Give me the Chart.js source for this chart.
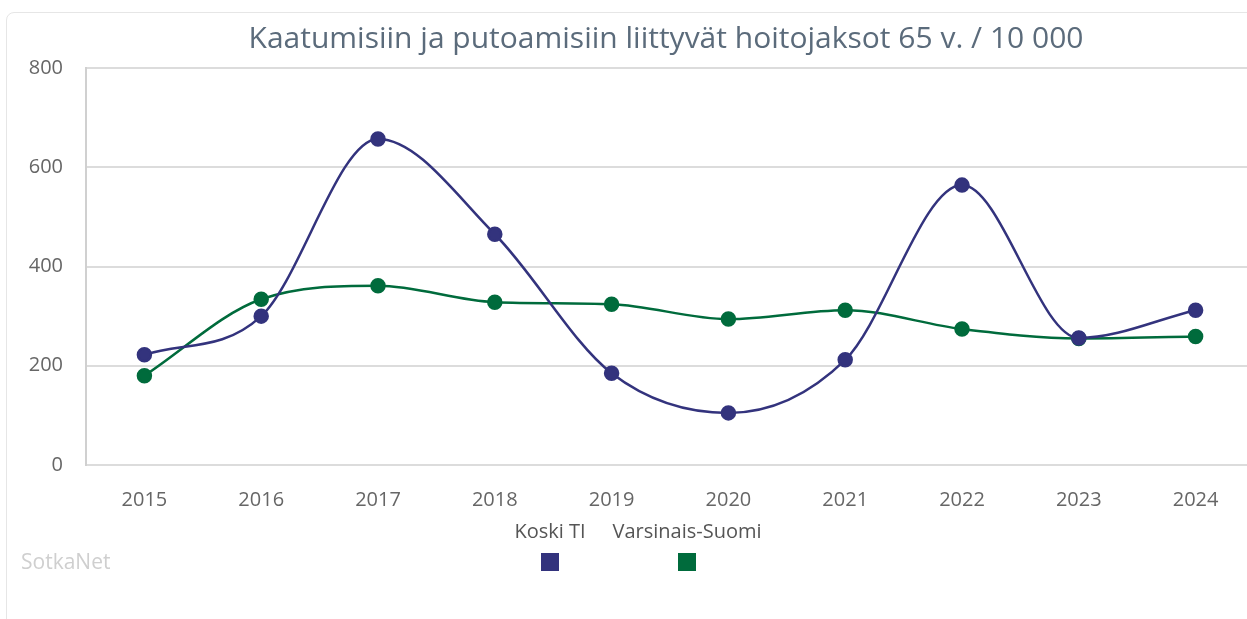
<!DOCTYPE html>
<html>
<head>
<meta charset="utf-8">
<script src="https://cdn.jsdelivr.net/npm/chart.js@4/dist/chart.umd.min.js"></script>
<style>
  html, body { margin: 0; padding: 0; overflow: hidden; background: #fff; }
  body { width: 1247px; height: 619px; position: relative; }
  .card {
    position: absolute; left: 6px; top: 12px; width: 1400px; height: 640px;
    border: 1px solid #e6e6e6; border-radius: 8px; background: #fff;
  }
  #chart { position: absolute; left: 0; top: 0; }
</style>
</head>
<body>
<div class="card"></div>
<canvas id="chart" width="1332" height="619"></canvas>
<script>
const title = 'Kaatumisiin ja putoamisiin liittyvät hoitojaksot 65 v. / 10 000'
const credit = 'SotkaNet'
const years = ['2015', '2016', '2017', '2018', '2019', '2020', '2021', '2022', '2023', '2024']
const koskiValues = [222, 300, 657, 465, 185, 105, 212, 564, 256, 312]
const varsinaisValues = [180, 334, 361, 328, 324, 294, 312, 274, 255, 259]
const yTicks = [0, 200, 400, 600, 800]

const navy = '#33337d'
const green = '#006b3c'
const fontFamily = '"Open Sans", "Noto Sans", sans-serif'

// title, legend and credit drawn by hand to match the original layout
const decorations = {
  id: 'decorations',
  afterDraw(chart) {
    const ctx = chart.ctx
    ctx.save()
    ctx.textBaseline = 'middle'
    ctx.textAlign = 'center'

    ctx.fillStyle = '#5b6b7b'
    ctx.font = `30px ${fontFamily}`
    ctx.fillText(title, 666, 39)

    const legendX = [550, 687]
    chart.data.datasets.forEach((ds, i) => {
      ctx.fillStyle = '#555'
      ctx.font = `20px ${fontFamily}`
      ctx.fillText(ds.label, legendX[i], 532)
      ctx.fillStyle = ds.borderColor
      ctx.fillRect(legendX[i] - 9, 553, 18, 18)
    })

    ctx.textAlign = 'left'
    ctx.fillStyle = '#cfcfcf'
    ctx.font = `21px ${fontFamily}`
    ctx.fillText(credit, 21, 563)
    ctx.restore()
  }
}

new Chart(document.getElementById('chart'), {
  type: 'line',
  data: {
    labels: years,
    datasets: [
      {
        label: 'Koski TI',
        data: koskiValues,
        borderColor: navy,
        backgroundColor: navy,
        borderWidth: 2.5,
        pointRadius: 6.5,
        cubicInterpolationMode: 'monotone'
      },
      {
        label: 'Varsinais-Suomi',
        data: varsinaisValues,
        borderColor: green,
        backgroundColor: green,
        borderWidth: 2.5,
        pointRadius: 6.5,
        cubicInterpolationMode: 'monotone'
      }
    ]
  },
  options: {
    responsive: false,
    devicePixelRatio: 1,
    animation: false,
    layout: { padding: { top: 68, right: 78, left: 0, bottom: 0 } },
    plugins: {
      legend: { display: false },
      title: { display: false },
      tooltip: { enabled: false }
    },
    scales: {
      x: {
        offset: true,
        grid: { display: false, drawTicks: false },
        border: { display: false },
        ticks: {
          color: '#666',
          padding: 23,
          maxRotation: 0,
          font: { family: fontFamily, size: 20 }
        },
        afterFit(scale) { scale.height = 154 }
      },
      y: {
        min: 0,
        max: 800,
        afterBuildTicks(scale) { scale.ticks = yTicks.map(v => ({ value: v })) },
        grid: { color: '#dcdcdc', lineWidth: 2, drawTicks: false },
        border: { display: true, color: '#d0d0d0', width: 2 },
        ticks: {
          color: '#666',
          padding: 23,
          font: { family: fontFamily, size: 20 }
        },
        afterFit(scale) { scale.width = 86 }
      }
    }
  },
  plugins: [decorations]
})
</script>
</body>
</html>
